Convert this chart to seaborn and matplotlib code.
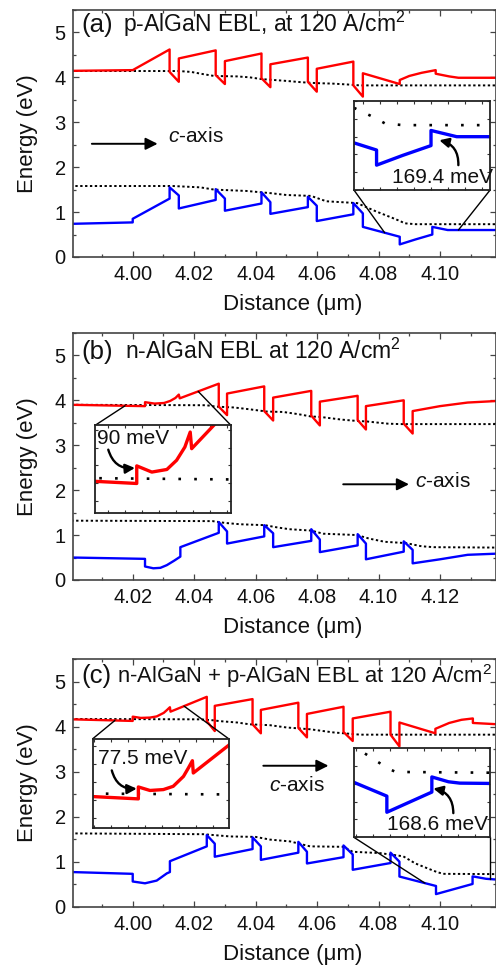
import numpy as np
import matplotlib
matplotlib.use("Agg")
import matplotlib.pyplot as plt
import seaborn as sns
from matplotlib.ticker import MultipleLocator, FormatStrFormatter, NullFormatter

sns.set_theme(style="ticks")
plt.rcParams['font.family'] = ['Liberation Sans', 'DejaVu Sans']
plt.rcParams['mathtext.fontset'] = 'custom'
plt.rcParams['mathtext.rm'] = 'Liberation Sans'
plt.rcParams['mathtext.it'] = 'Liberation Sans:italic'

# ---------------- panel (a): p-AlGaN EBL ----------------
x_cb_a = [3.975, 4.000, 4.0120, 4.0120, 4.0150, 4.0150, 4.0270, 4.0270, 4.0300, 4.0300,
          4.0419, 4.0419, 4.0448, 4.0448, 4.0570, 4.0570, 4.0599, 4.0599, 4.0718, 4.0718,
          4.0749, 4.0749, 4.0869, 4.0869, 4.0900, 4.0940, 4.0986, 4.0986, 4.1030, 4.1060, 4.1300]
e_cb_a = [4.14, 4.16, 4.62, 4.12, 3.90, 4.42, 4.60, 4.05, 3.85, 4.36,
          4.53, 3.98, 3.78, 4.29, 4.44, 3.90, 3.68, 4.19, 4.35, 3.82,
          3.57, 4.09, 3.85, 3.94, 4.03, 4.10, 4.16, 4.08, 4.02, 3.99, 3.99]
x_vb_a = [3.975, 4.000, 4.000, 4.0120, 4.0120, 4.0150, 4.0150, 4.0270, 4.0270, 4.0300, 4.0300,
          4.0419, 4.0419, 4.0448, 4.0448, 4.0570, 4.0570, 4.0599, 4.0599, 4.0718, 4.0718,
          4.0749, 4.0749, 4.0869, 4.0869, 4.0920, 4.0975, 4.0975, 4.1025, 4.1300]
e_vb_a = [0.73, 0.77, 0.85, 1.30, 1.55, 1.37, 1.08, 1.27, 1.51, 1.30, 1.03,
          1.19, 1.44, 1.22, 0.96, 1.11, 1.34, 1.14, 0.80, 0.95, 1.20,
          0.97, 0.67, 0.45, 0.28, 0.39, 0.50, 0.67, 0.60, 0.60]
x_efn_a = [3.975, 4.0150, 4.0190, 4.0230, 4.0265, 4.0340, 4.0380, 4.0420, 4.0460,
           4.0500, 4.0550, 4.0600, 4.0650, 4.0700, 4.0740, 4.1300]
e_efn_a = [4.14, 4.14, 4.12, 4.07, 4.03, 4.02, 4.00, 3.96, 3.94,
           3.92, 3.89, 3.87, 3.86, 3.84, 3.82, 3.82]
x_efp_a = [3.975, 4.0130, 4.0220, 4.0265, 4.0370, 4.0450, 4.0500, 4.0580, 4.0630,
           4.0730, 4.0790, 4.0845, 4.0870, 4.0885, 4.0920, 4.1300]
e_efp_a = [1.58, 1.58, 1.55, 1.50, 1.47, 1.42, 1.38, 1.36, 1.24,
           1.20, 1.02, 0.87, 0.80, 0.75, 0.73, 0.73]

# ---------------- panel (b): n-AlGaN EBL ----------------
x_cb_b = [4.000, 4.0240, 4.0240, 4.0271, 4.0302, 4.0322, 4.0339, 4.0350, 4.0353,
          4.0480, 4.0480, 4.0507, 4.0507, 4.0628, 4.0628, 4.0657, 4.0657, 4.0781, 4.0781,
          4.0809, 4.0809, 4.0932, 4.0932, 4.0959, 4.0959, 4.1082, 4.1082, 4.1111, 4.1111,
          4.1200, 4.1290, 4.1400]
e_cb_b = [3.90, 3.87, 3.958, 3.927, 3.940, 3.986, 4.052, 4.127, 4.044,
          4.37, 3.86, 3.67, 4.15, 4.31, 3.76, 3.55, 4.06, 4.21, 3.66,
          3.44, 3.97, 4.10, 3.56, 3.35, 3.87, 4.00, 3.48, 3.26, 3.76,
          3.87, 3.95, 3.99]
x_vb_b = [4.000, 4.0240, 4.0240, 4.0267, 4.0290, 4.0311, 4.0335, 4.0355, 4.0355,
          4.0480, 4.0480, 4.0507, 4.0507, 4.0628, 4.0628, 4.0657, 4.0657, 4.0781, 4.0781,
          4.0809, 4.0809, 4.0932, 4.0932, 4.0959, 4.0959, 4.1082, 4.1082, 4.1111, 4.1111,
          4.1200, 4.1290, 4.1400]
e_vb_b = [0.50, 0.47, 0.30, 0.26, 0.27, 0.33, 0.43, 0.52, 0.73,
          1.05, 1.29, 1.08, 0.81, 0.97, 1.22, 1.04, 0.73, 0.87, 1.13,
          0.90, 0.62, 0.77, 1.02, 0.81, 0.46, 0.63, 0.86, 0.67, 0.37,
          0.46, 0.56, 0.59]
x_efn_b = [4.000, 4.0440, 4.0470, 4.0530, 4.0580, 4.0636, 4.0690, 4.0740, 4.0780,
           4.0810, 4.0880, 4.0930, 4.0960, 4.1030, 4.1070, 4.1400]
e_efn_b = [3.90, 3.89, 3.86, 3.84, 3.80, 3.75, 3.74, 3.69, 3.64,
           3.63, 3.57, 3.54, 3.53, 3.48, 3.47, 3.47]
x_efp_b = [4.000, 4.0460, 4.0500, 4.0550, 4.0630, 4.0670, 4.0710, 4.0780, 4.0820,
           4.0930, 4.0970, 4.1020, 4.1090, 4.1140, 4.1180, 4.1400]
e_efp_b = [1.32, 1.31, 1.27, 1.24, 1.22, 1.17, 1.13, 1.10, 1.03,
           1.00, 0.92, 0.85, 0.82, 0.75, 0.73, 0.72]

# ---------------- panel (c): n-AlGaN + p-AlGaN EBL ----------------
x_cb_c = [3.975, 4.000, 4.000, 4.0026, 4.0056, 4.0078, 4.0101, 4.0112, 4.0121, 4.0123,
          4.0241, 4.0241, 4.0267, 4.0267, 4.0390, 4.0390, 4.0417, 4.0417, 4.0539, 4.0539,
          4.0567, 4.0567, 4.0686, 4.0686, 4.0716, 4.0716, 4.0839, 4.0839, 4.0868, 4.0868,
          4.0985, 4.0985, 4.1030, 4.1070, 4.1107, 4.1107, 4.1300]
e_cb_c = [4.17, 4.125, 4.220, 4.192, 4.199, 4.225, 4.304, 4.371, 4.429, 4.331,
          4.66, 4.12, 3.90, 4.46, 4.61, 4.05, 3.85, 4.37, 4.53, 3.97,
          3.76, 4.28, 4.44, 3.88, 3.68, 4.18, 4.33, 3.82, 3.56, 4.09,
          3.85, 3.95, 4.08, 4.15, 4.18, 4.08, 4.01]
x_vb_c = [3.975, 4.000, 4.000, 4.0040, 4.0078, 4.0111, 4.0121, 4.0121, 4.0241, 4.0241,
          4.0267, 4.0267, 4.0390, 4.0390, 4.0417, 4.0417, 4.0539, 4.0539, 4.0567, 4.0567,
          4.0686, 4.0686, 4.0716, 4.0716, 4.0839, 4.0839, 4.0868, 4.0868, 4.0987, 4.0987,
          4.1106, 4.1106, 4.1150, 4.1180, 4.1300]
e_vb_c = [0.78, 0.73, 0.56, 0.52, 0.58, 0.74, 0.77, 1.01, 1.34, 1.59,
          1.40, 1.11, 1.28, 1.54, 1.34, 1.04, 1.20, 1.44, 1.22, 0.96,
          1.10, 1.36, 1.16, 0.82, 0.97, 1.20, 1.00, 0.67, 0.46, 0.28,
          0.505, 0.674, 0.62, 0.605, 0.60]
x_efn_c = [3.975, 4.0220, 4.0260, 4.0284, 4.0340, 4.0380, 4.0447, 4.0500, 4.0577,
           4.0653, 4.0740, 4.1300]
e_efn_c = [4.17, 4.16, 4.14, 4.12, 4.09, 4.05, 4.03, 3.98, 3.94,
           3.87, 3.82, 3.82]
x_efp_c = [3.975, 4.0230, 4.0317, 4.0400, 4.0447, 4.0512, 4.0577, 4.0685, 4.0716,
           4.0805, 4.0880, 4.0920, 4.0960, 4.0990, 4.1010, 4.1300]
e_efp_c = [1.63, 1.61, 1.56, 1.55, 1.49, 1.45, 1.34, 1.33, 1.22,
           1.19, 1.12, 0.96, 0.85, 0.77, 0.73, 0.72]

# titles / annotations
panel_tags = ['(a)', '(b)', '(c)']
panel_titles = ['p-AlGaN EBL, at 120 A/cm$^2$', 'n-AlGaN EBL at 120 A/cm$^2$',
                'n-AlGaN + p-AlGaN EBL at 120 A/cm$^2$']
inset_labels = ['169.4 meV', '90 meV', '77.5 meV', '168.6 meV']

RED = '#ff0000'
BLUE = '#0000ff'
DOT_MAIN = (0, (1.2, 1.3))
DOT_INSET = (0, (1, 5))
TXT = '#111111'

fig = plt.figure(figsize=(4.96, 9.65), dpi=100)
fig.patch.set_facecolor('white')

axes_rects = [
    [0.1466, 0.7337, 0.8528, 0.2560],
    [0.1466, 0.3990, 0.8528, 0.2560],
    [0.1466, 0.0604, 0.8528, 0.2567],
]
xlims = [(3.98047, 4.11813), (4.00047, 4.13813), (3.98047, 4.11813)]
data = [
    (x_cb_a, e_cb_a, x_vb_a, e_vb_a, x_efn_a, e_efn_a, x_efp_a, e_efp_a),
    (x_cb_b, e_cb_b, x_vb_b, e_vb_b, x_efn_b, e_efn_b, x_efp_b, e_efp_b),
    (x_cb_c, e_cb_c, x_vb_c, e_vb_c, x_efn_c, e_efn_c, x_efp_c, e_efp_c),
]
title_y = [0.912, 0.895, 0.902]
title_x = [0.118, 0.124, 0.104]
title_fs = [16.5, 16.5, 15.8]

SPINE = '#444444'


def style_main(ax, xlim):
    ax.set_xlim(*xlim)
    ax.set_ylim(0, 5.5)
    ax.xaxis.set_major_locator(MultipleLocator(0.02))
    ax.xaxis.set_minor_locator(MultipleLocator(0.01))
    ax.xaxis.set_major_formatter(FormatStrFormatter('%.2f'))
    ax.yaxis.set_major_locator(MultipleLocator(1))
    ax.yaxis.set_minor_locator(MultipleLocator(0.5))
    ax.tick_params(which='both', direction='in', top=True, right=True,
                   color=SPINE, width=0.9, labelsize=14.5, labelcolor=TXT)
    ax.tick_params(which='major', length=4.0)
    ax.tick_params(which='minor', length=2.5)
    ax.tick_params(axis='x', pad=6)
    ax.tick_params(axis='y', pad=5)
    for s in ax.spines.values():
        s.set_color(SPINE)
        s.set_linewidth(1.2)
    ax.set_xlabel('Distance (\u03bcm)', fontsize=16, color=TXT)
    ax.xaxis.set_label_coords(0.521, -0.216)
    ax.xaxis.label.set_verticalalignment('baseline')
    ax.set_ylabel('Energy (eV)', fontsize=16, color=TXT)
    ax.yaxis.set_label_coords(-0.082, 0.5)


def style_inset(axi, xlim, ylim):
    axi.set_xlim(*xlim)
    axi.set_ylim(*ylim)
    axi.xaxis.set_major_locator(MultipleLocator((xlim[1] - xlim[0]) / 8))
    axi.yaxis.set_major_locator(MultipleLocator((ylim[1] - ylim[0]) / 5))
    axi.xaxis.set_major_formatter(NullFormatter())
    axi.yaxis.set_major_formatter(NullFormatter())
    axi.tick_params(which='both', direction='in', top=True, right=True,
                    length=2.5, width=0.8, color='#333333')
    axi.set_xlabel('')
    axi.set_ylabel('')
    for s in axi.spines.values():
        s.set_color('#222222')
        s.set_linewidth(1.3)
    axi.set_facecolor('white')


def draw_bands(ax, d, lw, dot, dot_lw, which=('cb', 'vb', 'efn', 'efp')):
    xc, ec, xv, ev, xn, en, xp, ep = d
    if 'efn' in which:
        sns.lineplot(x=xn, y=en, ax=ax, sort=False, estimator=None, color='black',
                     lw=dot_lw, linestyle=dot)
    if 'efp' in which:
        sns.lineplot(x=xp, y=ep, ax=ax, sort=False, estimator=None, color='black',
                     lw=dot_lw, linestyle=dot)
    if 'cb' in which:
        sns.lineplot(x=xc, y=ec, ax=ax, sort=False, estimator=None, color=RED, lw=lw)
    if 'vb' in which:
        sns.lineplot(x=xv, y=ev, ax=ax, sort=False, estimator=None, color=BLUE, lw=lw)


axes = []
for i in range(3):
    ax = fig.add_axes(axes_rects[i])
    draw_bands(ax, data[i], 1.7, DOT_MAIN, 1.4)
    style_main(ax, xlims[i])
    ax.text(0.021, title_y[i], panel_tags[i], transform=ax.transAxes, fontsize=18.5,
            va='baseline', ha='left', color=TXT)
    ax.text(title_x[i], title_y[i], panel_titles[i], transform=ax.transAxes,
            fontsize=title_fs[i], va='baseline', ha='left', color=TXT)
    axes.append(ax)

# c-axis arrows
caxis_arrows = [((3.9867, 2.52), (4.0081, 2.52)), ((4.0885, 2.13), (4.1099, 2.13)),
                ((4.0425, 3.13), (4.0637, 3.13))]
caxis_text = [(4.0115, 2.55, 'left'), (4.1119, 2.07, 'left'), (4.0535, 2.56, 'center')]
for ax, (p0, p1), (tx, ty, ha) in zip(axes, caxis_arrows, caxis_text):
    ax.annotate('', xy=p1, xytext=p0,
                arrowprops=dict(arrowstyle='-|>', color='black', lw=1.4,
                                mutation_scale=18, shrinkA=0, shrinkB=0))
    ax.text(tx, ty, '$\\mathit{c}$-axis', fontsize=15, ha=ha, va='baseline', color=TXT)

# insets: (parent, bounds in parent data, xlim, ylim, bands, zoom x-range, corner side,
#          band for connectors, label, label pos, arrow start, arrow end)
insets = [
    (0, [4.0720, 1.49, 0.0443, 1.98], (4.0825, 4.109), (0.0, 1.0), ('vb', 'efp'),
     (4.082, 4.106), 'bottom', 'vb', inset_labels[0], (0.277, 0.075),
     (0.767, 0.28), (0.627, 0.56)),
    (1, [4.0077, 1.48, 0.0443, 1.96], (4.0154, 4.0434), (3.72, 4.16), ('cb', 'efn'),
     (4.0175, 4.0413), 'top', 'cb', inset_labels[1], (0.012, 0.785),
     (0.098, 0.725), (0.294, 0.517)),
    (2, [3.9870, 1.75, 0.0442, 1.98], (3.9898, 4.0202), (3.894, 4.604), ('cb', 'efn'),
     (3.9942, 4.0167), 'top', 'cb', inset_labels[2], (0.042, 0.72),
     (0.14, 0.645), (0.324, 0.44)),
    (2, [4.0720, 1.54, 0.0443, 1.99], (4.090, 4.126), (0.0, 1.0), ('vb', 'efp'),
     (4.0951, 4.1163), 'bottom', 'vb', inset_labels[3], (0.24, 0.078),
     (0.73, 0.27), (0.583, 0.545)),
]

for (pi, bounds, xl, yl, which, zx, side, band, label, lpos, a0, a1) in insets:
    ax = axes[pi]
    d = data[pi]
    axi = ax.inset_axes(bounds, transform=ax.transData)
    draw_bands(axi, d, 2.4, DOT_INSET, 1.9, which=which)
    style_inset(axi, xl, yl)
    bx, be = (d[0], d[1]) if band == 'cb' else (d[2], d[3])
    cy = bounds[1] + bounds[3] if side == 'top' else bounds[1]
    corners = [bounds[0], bounds[0] + bounds[2]]
    for cx, tx in zip(corners, zx):
        ty = float(np.interp(tx, bx, be))
        ax.plot([cx, tx], [cy, ty], color='black', lw=1.0, zorder=5)
    axi.set_zorder(6)
    axi.text(lpos[0], lpos[1], label, transform=axi.transAxes, fontsize=15,
             ha='left', va='baseline', color=TXT)
    axi.annotate('', xy=a1, xytext=a0, xycoords='axes fraction', textcoords='axes fraction',
                 arrowprops=dict(arrowstyle='-|>', color='black', lw=1.7,
                                 mutation_scale=14, shrinkA=0, shrinkB=0,
                                 connectionstyle='arc3,rad=0.4'))

fig.savefig('out.png', dpi=100, facecolor='white')
